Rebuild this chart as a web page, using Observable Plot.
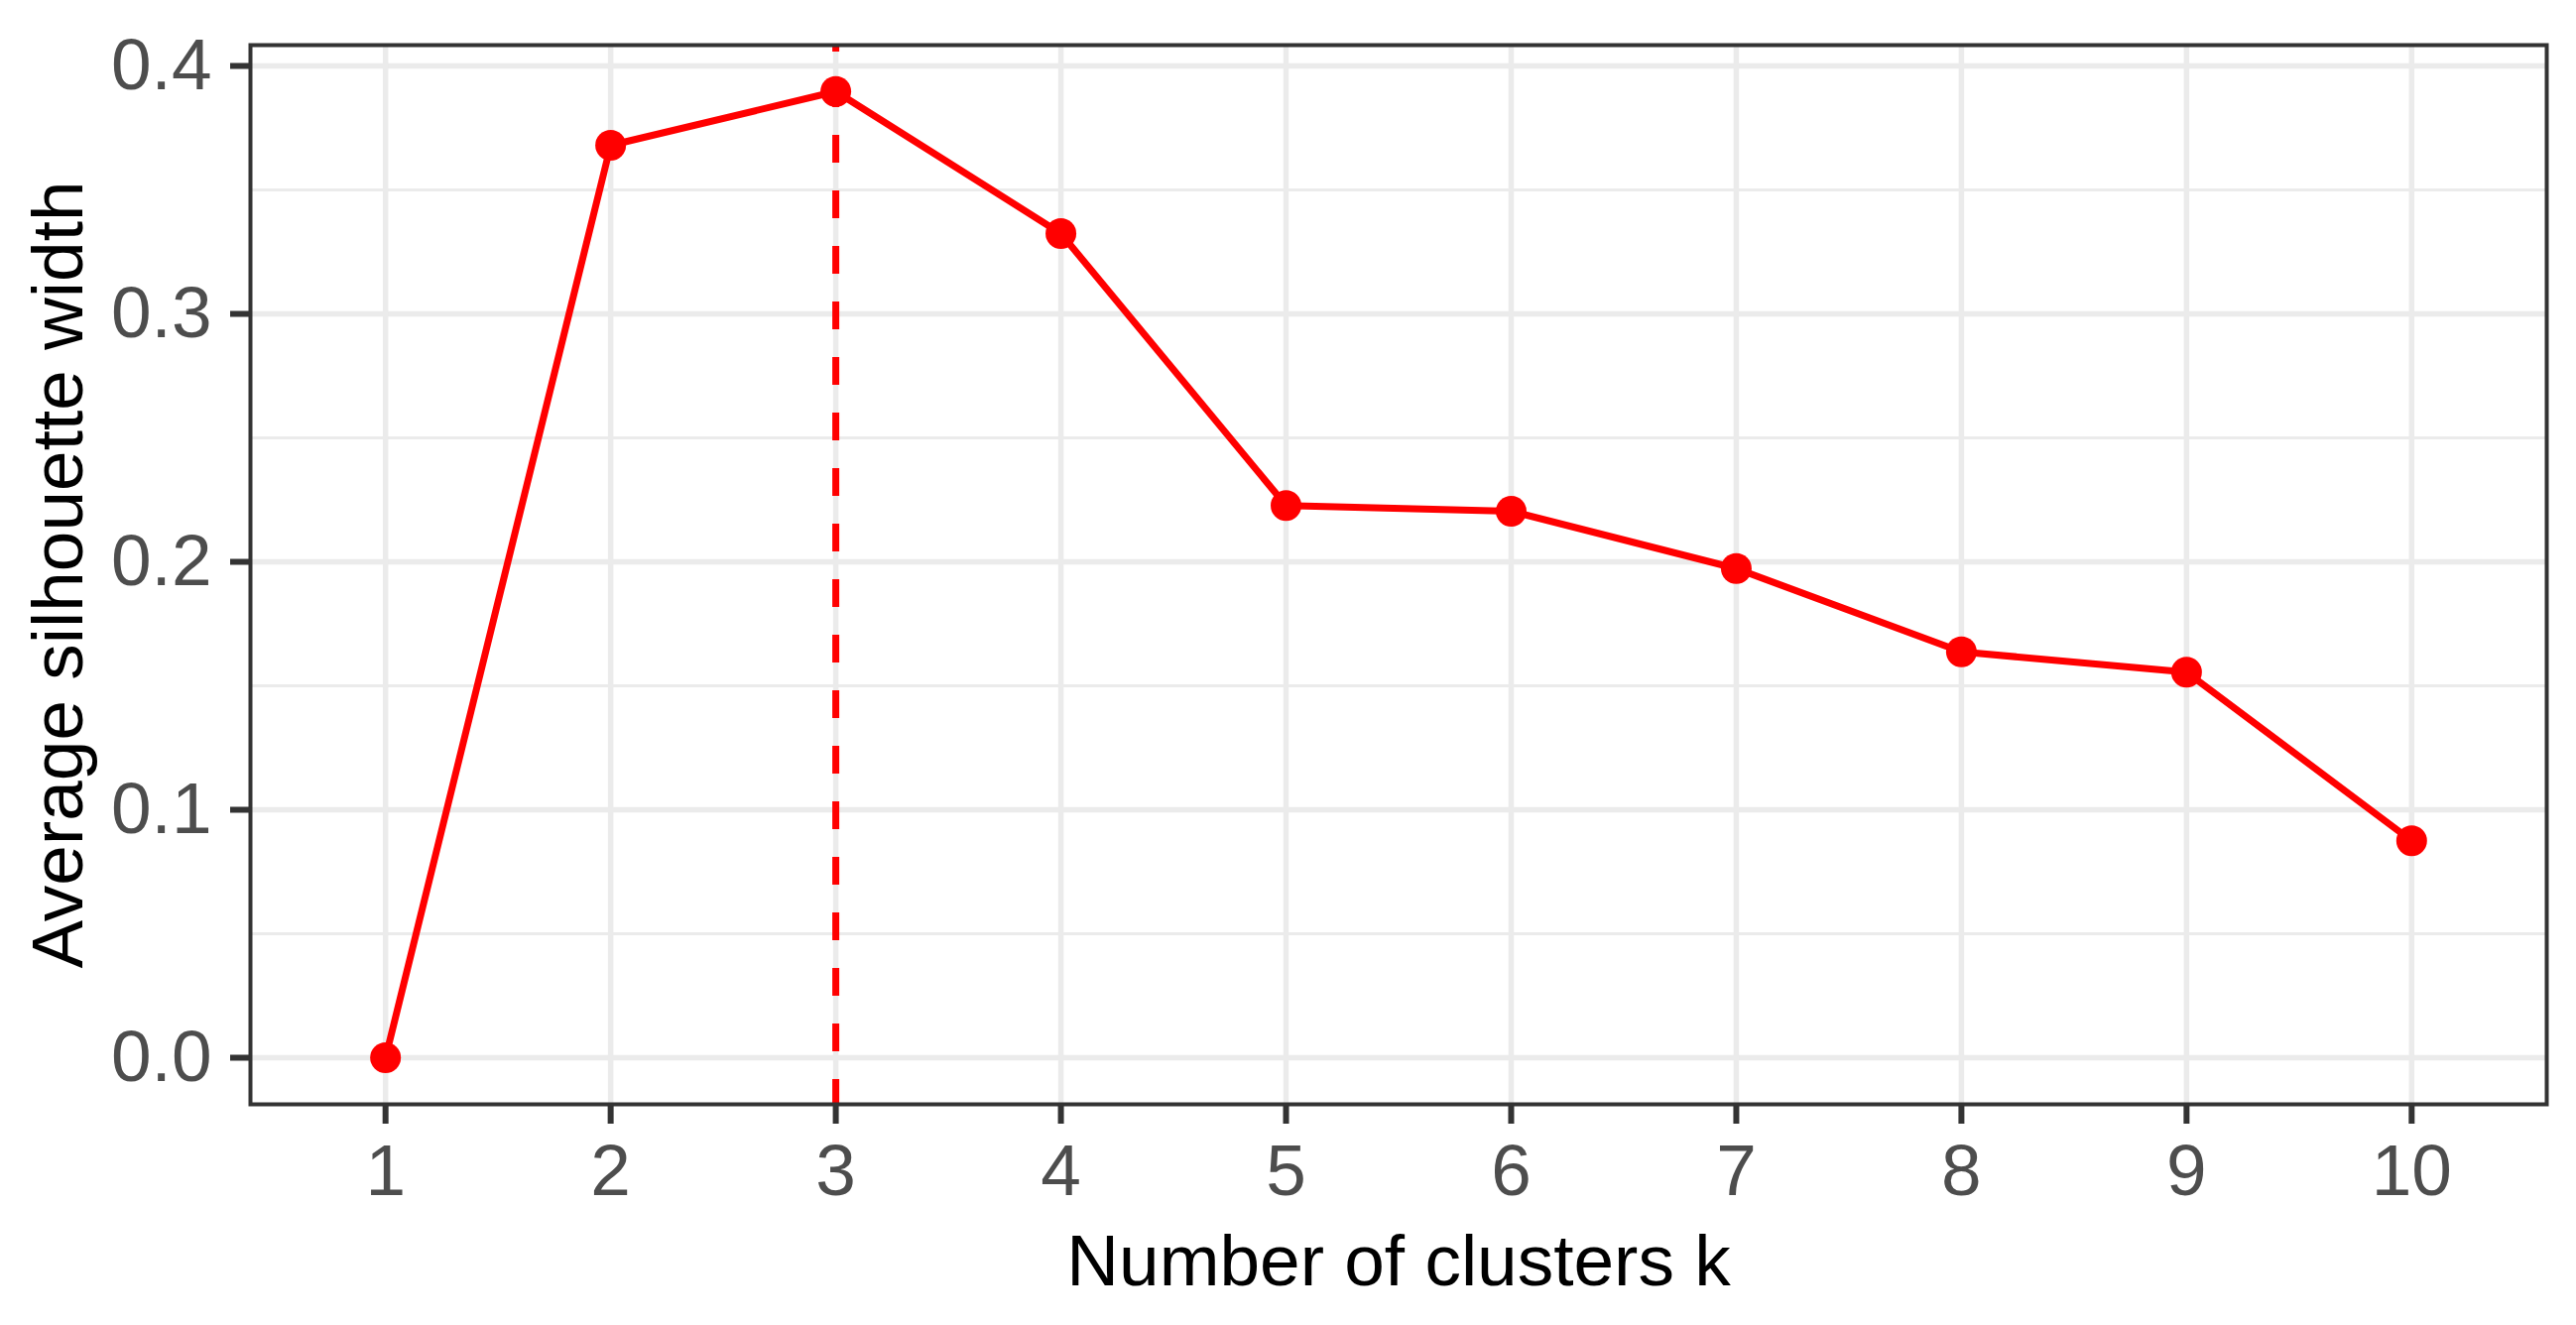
<!DOCTYPE html>
<html>
<head>
<meta charset="utf-8">
<script src="https://cdn.jsdelivr.net/npm/d3@7"></script>
<script src="https://cdn.jsdelivr.net/npm/@observablehq/plot@0.6"></script>
<style>
  html, body { margin: 0; padding: 0; background: #ffffff; }
  #chart { width: 2597px; height: 1336px; }
</style>
</head>
<body>
<div id="chart"></div>
<script>
const ks = [1, 2, 3, 4, 5, 6, 7, 8, 9, 10];
const silhouette = [0, 0.368, 0.3897, 0.3324, 0.2227, 0.2204, 0.1973, 0.1637, 0.1555, 0.0875];
const yTicks = [0, 0.1, 0.2, 0.3, 0.4];
const yMinorTicks = [0.05, 0.15, 0.25, 0.35];
const optimalK = [3];
const xTitle = "Number of clusters k";
const yTitle = "Average silhouette width";

const data = ks.map((k, i) => ({k, v: silhouette[i]}));

const font = "'Liberation Sans', Arial, Helvetica, sans-serif";

const chart = Plot.plot({
  width: 2597,
  height: 1336,
  marginTop: 45,
  marginBottom: 223,
  marginLeft: 252,
  marginRight: 30,
  style: {fontFamily: font, background: "#ffffff", overflow: "visible"},
  x: {type: "linear", domain: [0.4, 10.6]},
  y: {type: "linear", domain: [-0.0188, 0.4084]},
  marks: [
    Plot.gridY(yMinorTicks, {stroke: "#EBEBEB", strokeOpacity: 1, strokeWidth: 2.8}),
    Plot.gridY(yTicks, {stroke: "#EBEBEB", strokeOpacity: 1, strokeWidth: 5.5}),
    Plot.gridX(ks, {stroke: "#EBEBEB", strokeOpacity: 1, strokeWidth: 5.5}),
    Plot.line(data, {x: "k", y: "v", stroke: "#FF0000", strokeWidth: 7}),
    Plot.ruleX(optimalK, {stroke: "#FF0000", strokeWidth: 7, strokeDasharray: "28,28", strokeDashoffset: 21}),
    Plot.dot(data, {x: "k", y: "v", r: 15.5, fill: "#FF0000", stroke: null}),
    Plot.frame({stroke: "#333333", strokeWidth: 4}),
    Plot.axisX(ks, {
      tickSize: 20, tickPadding: 20, stroke: "#333333", strokeWidth: 6,
      fill: "#4D4D4D", fontSize: 73, tickFormat: d3.format("d"), label: null
    }),
    Plot.axisY(yTicks, {
      tickSize: 20, tickPadding: 19, stroke: "#333333", strokeWidth: 6,
      fill: "#4D4D4D", fontSize: 73, tickFormat: d3.format(".1f"), label: null
    }),
    Plot.text([xTitle], {
      text: d => d, frameAnchor: "bottom", dy: 182, lineAnchor: "bottom",
      textAnchor: "middle", fontSize: 73, fill: "#000000"
    }),
    Plot.text([yTitle], {
      text: d => d, frameAnchor: "left", dx: -170, rotate: -90, lineAnchor: "bottom",
      textAnchor: "middle", fontSize: 73, fill: "#000000"
    })
  ]
});

document.getElementById("chart").appendChild(chart);
</script>
</body>
</html>
